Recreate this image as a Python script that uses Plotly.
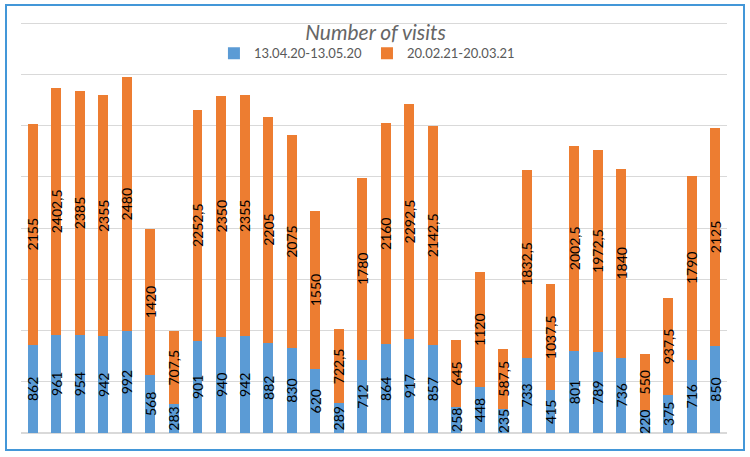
import plotly.graph_objects as go

categories = list(range(1, 31))
series1_name = "13.04.20-13.05.20"
series2_name = "20.02.21-20.03.21"
series1 = [862, 961, 954, 942, 992, 568, 283, 901, 940, 942, 882, 830, 620, 289, 712,
           864, 917, 857, 258, 448, 235, 733, 415, 801, 789, 736, 220, 375, 716, 850]
series2 = [2155, 2402.5, 2385, 2355, 2480, 1420, 707.5, 2252.5, 2350, 2355, 2205, 2075, 1550, 722.5, 1780,
           2160, 2292.5, 2142.5, 645, 1120, 587.5, 1832.5, 1037.5, 2002.5, 1972.5, 1840, 550, 937.5, 1790, 2125]


def fmt(v):
    if float(v).is_integer():
        return str(int(v))
    return str(v).replace(".", ",")


FONT = "Lato, 'Open Sans', sans-serif"
label_font = dict(family=FONT, size=14, color="#000000")

fig = go.Figure()
fig.add_trace(go.Bar(
    x=categories, y=series1, name=series1_name,
    marker=dict(color="#5B9BD5", line=dict(width=0)),
    text=[fmt(v) for v in series1], textposition="inside", insidetextanchor="middle",
    textangle=-90, constraintext="none", textfont=label_font, cliponaxis=False,
    hoverinfo="skip",
))
fig.add_trace(go.Bar(
    x=categories, y=series2, name=series2_name,
    marker=dict(color="#ED7D31", line=dict(width=0)),
    text=[fmt(v) for v in series2], textposition="inside", insidetextanchor="middle",
    textangle=-90, constraintext="none", textfont=label_font, cliponaxis=False,
    hoverinfo="skip",
))

fig.update_layout(
    width=750, height=457,
    barmode="stack", bargap=0.58,
    plot_bgcolor="white", paper_bgcolor="white",
    margin=dict(l=21, r=23, t=22, b=24),
    title=dict(text="<i>Number of visits</i>", x=0.5007, xanchor="center",
               y=1 - 33 / 457, yanchor="middle", yref="container",
               font=dict(family=FONT, size=21, color="#666666")),
    legend=dict(orientation="h", x=0.49, xanchor="center", y=0.924, yanchor="middle",
                font=dict(family=FONT, size=13, color="#595959"),
                bgcolor="rgba(0,0,0,0)", traceorder="normal", itemwidth=30),
    xaxis=dict(type="category", showticklabels=False, showgrid=False, zeroline=False,
               showline=False, ticks=""),
    yaxis=dict(range=[0, 4010], dtick=500, showticklabels=False, showgrid=True,
               gridcolor="#D9D9D9", gridwidth=1, zeroline=True, zerolinecolor="#D9D9D9",
               showline=False, ticks=""),
    shapes=[dict(type="rect", xref="paper", yref="paper",
                 x0=-15 / 706, x1=723 / 706, y0=-17 / 411, y1=428 / 411,
                 line=dict(color="#4397D8", width=2), fillcolor="rgba(0,0,0,0)", layer="below")],
    showlegend=True,
)

fig.write_html("out.html", config={"displayModeBar": False},
               post_script="document.body.style.margin='0';")
